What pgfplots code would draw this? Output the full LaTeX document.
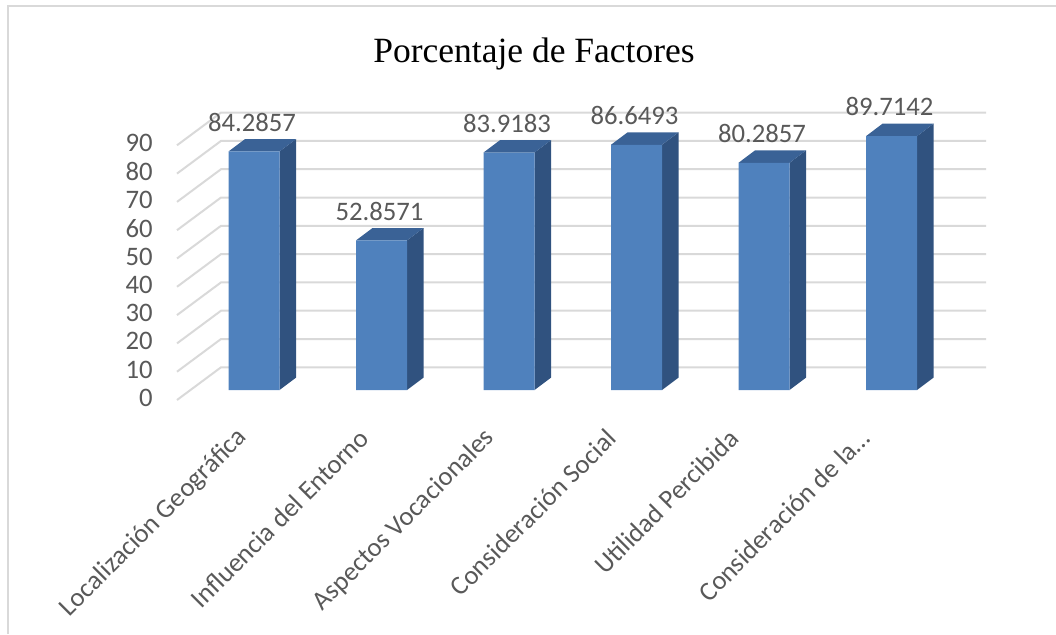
\documentclass[border=0pt]{standalone}
\usepackage{fontspec}
\setmainfont{Carlito}
\newfontfamily\titlefont{Liberation Serif}
\usepackage{pgfplots}
\pgfplotsset{compat=1.18}
\usepackage{pgfplotstable}
\definecolor{front}{HTML}{4F81BD}
\definecolor{side}{HTML}{30527F}
\definecolor{topc}{HTML}{3A6296}
\definecolor{gridc}{HTML}{D9D9D9}
\definecolor{lbl}{HTML}{595959}
\newlength{\unitpx}\setlength{\unitpx}{0.5pt}

\pgfplotstableread{
x v lbl
0 84.2857 84.2857
1 52.8571 52.8571
2 83.9183 83.9183
3 86.6493 86.6493
4 80.2857 80.2857
5 89.7142 89.7142
}\datatable

\begin{document}
\begin{tikzpicture}
\useasboundingbox (0,0) rectangle (1056\unitpx,634\unitpx);
\draw[gridc, line width=1.5\unitpx] (8\unitpx,0) -- (8\unitpx,628\unitpx) -- (1056\unitpx,628\unitpx);
\node[font=\titlefont\fontsize{17.75pt}{20pt}\selectfont, anchor=base, text=black] at (534\unitpx,572\unitpx) {Porcentaje de Factores};
\begin{axis}[
  at={(177\unitpx,208.9\unitpx)}, anchor=south west,
  scale only axis, width=809\unitpx, height=318.1\unitpx,
  xmin=-0.604, xmax=5.741, ymin=-12.4, ymax=100,
  axis line style={draw=none}, major tick length=0pt,
  clip=false,
  xtick={-0.04,0.91,1.9,2.85,3.81,4.84},
  xticklabels={Localización Geográfica, Influencia del Entorno, Aspectos Vocacionales, Consideración Social, Utilidad Percibida, Consideración de la…},
  ytick={-3.53,6.47,16.47,26.47,36.47,46.47,56.47,66.47,76.47,86.47},
  yticklabels={0,10,20,30,40,50,60,70,80,90},
  tick label style={font=\fontsize{13.35pt}{16pt}\selectfont, text=lbl},
  yticklabel style={anchor=east, inner sep=0pt, xshift=-24\unitpx, yshift=2\unitpx},
  xticklabel style={rotate=45, anchor=east, inner sep=0pt, xshift=-10\unitpx, yshift=-2\unitpx},
]
% back wall and side wall grid lines
\addplot[gridc, line width=2\unitpx, forget plot] coordinates {(-0.604,-3.53) (-0.2588,8.02) (5.741,8.02)};
\addplot[gridc, line width=2\unitpx, forget plot] coordinates {(-0.604,6.47) (-0.2588,18.02) (5.741,18.02)};
\addplot[gridc, line width=2\unitpx, forget plot] coordinates {(-0.604,16.47) (-0.2588,28.02) (5.741,28.02)};
\addplot[gridc, line width=2\unitpx, forget plot] coordinates {(-0.604,26.47) (-0.2588,38.02) (5.741,38.02)};
\addplot[gridc, line width=2\unitpx, forget plot] coordinates {(-0.604,36.47) (-0.2588,48.02) (5.741,48.02)};
\addplot[gridc, line width=2\unitpx, forget plot] coordinates {(-0.604,46.47) (-0.2588,58.02) (5.741,58.02)};
\addplot[gridc, line width=2\unitpx, forget plot] coordinates {(-0.604,56.47) (-0.2588,68.02) (5.741,68.02)};
\addplot[gridc, line width=2\unitpx, forget plot] coordinates {(-0.604,66.47) (-0.2588,78.02) (5.741,78.02)};
\addplot[gridc, line width=2\unitpx, forget plot] coordinates {(-0.604,76.47) (-0.2588,88.02) (5.741,88.02)};
\addplot[gridc, line width=2\unitpx, forget plot] coordinates {(-0.604,86.47) (-0.2588,98.02) (5.741,98.02)};
% side faces of the bars
\addplot[fill=side, draw=none, forget plot] coordinates {(0.2,0) (0.3294,4.38) (0.3294,88.6657) (0.2,84.2857)} --cycle;
\addplot[fill=side, draw=none, forget plot] coordinates {(1.2,0) (1.3294,4.38) (1.3294,57.2371) (1.2,52.8571)} --cycle;
\addplot[fill=side, draw=none, forget plot] coordinates {(2.2,0) (2.3294,4.38) (2.3294,88.2983) (2.2,83.9183)} --cycle;
\addplot[fill=side, draw=none, forget plot] coordinates {(3.2,0) (3.3294,4.38) (3.3294,91.0293) (3.2,86.6493)} --cycle;
\addplot[fill=side, draw=none, forget plot] coordinates {(4.2,0) (4.3294,4.38) (4.3294,84.6657) (4.2,80.2857)} --cycle;
\addplot[fill=side, draw=none, forget plot] coordinates {(5.2,0) (5.3294,4.38) (5.3294,94.0942) (5.2,89.7142)} --cycle;
% top faces of the bars
\addplot[fill=topc, draw=none, forget plot] coordinates {(-0.2,84.2857) (0.2,84.2857) (0.3294,88.6657) (-0.0706,88.6657)} --cycle;
\addplot[fill=topc, draw=none, forget plot] coordinates {(0.8,52.8571) (1.2,52.8571) (1.3294,57.2371) (0.9294,57.2371)} --cycle;
\addplot[fill=topc, draw=none, forget plot] coordinates {(1.8,83.9183) (2.2,83.9183) (2.3294,88.2983) (1.9294,88.2983)} --cycle;
\addplot[fill=topc, draw=none, forget plot] coordinates {(2.8,86.6493) (3.2,86.6493) (3.3294,91.0293) (2.9294,91.0293)} --cycle;
\addplot[fill=topc, draw=none, forget plot] coordinates {(3.8,80.2857) (4.2,80.2857) (4.3294,84.6657) (3.9294,84.6657)} --cycle;
\addplot[fill=topc, draw=none, forget plot] coordinates {(4.8,89.7142) (5.2,89.7142) (5.3294,94.0942) (4.9294,94.0942)} --cycle;
% front faces with data labels
\addplot[ybar, bar width=51\unitpx, bar shift=0pt, fill=front, draw=none,
  point meta=explicit symbolic, nodes near coords,
  nodes near coords style={font=\fontsize{13.35pt}{16pt}\selectfont, text=lbl, anchor=south, inner sep=0pt, yshift=19.6\unitpx, xshift=-2\unitpx}]
  table[x=x, y=v, meta=lbl] {\datatable};
\end{axis}
\end{tikzpicture}
\end{document}
